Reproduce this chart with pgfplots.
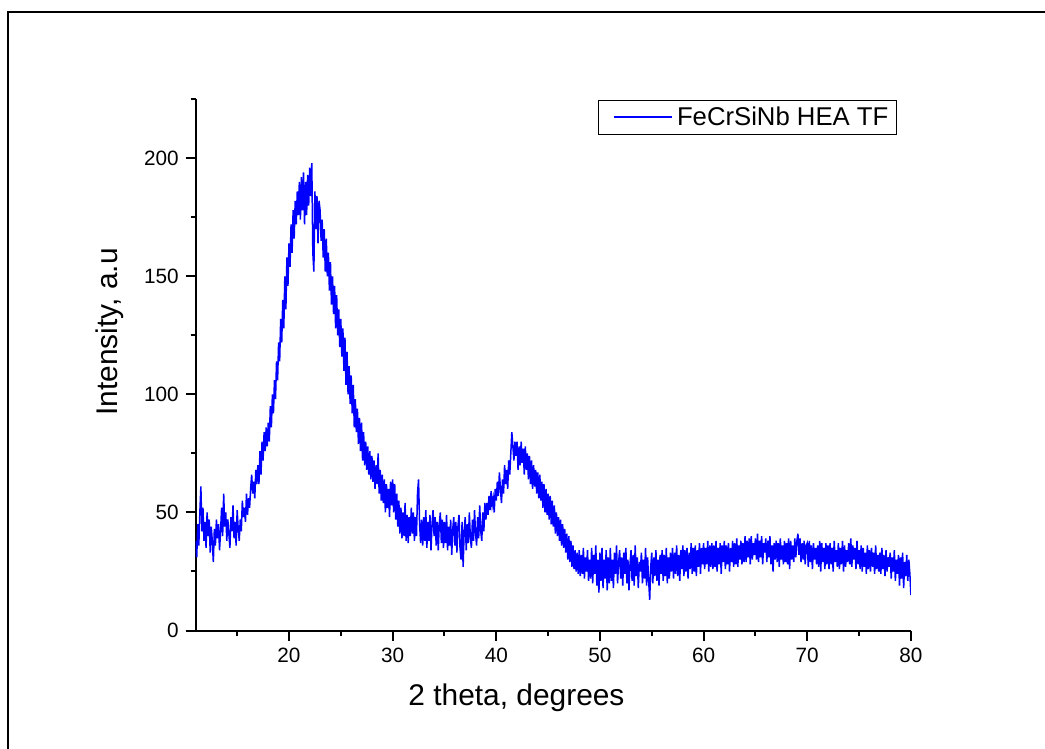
\documentclass[border=0pt]{standalone}
\usepackage{fontspec}
\setmainfont{Liberation Sans}
\usepackage{pgfplots}
\pgfplotsset{compat=1.18}
\begin{document}
\begin{tikzpicture}
\begin{axis}[
 at={(97.85bp,59.25bp)}, anchor=south west,
 scale only axis, width=357.6bp, height=265.6bp,
 xmin=11, xmax=80, ymin=0, ymax=225,
 axis lines*=left,
 axis line style={line width=1bp, black},
 every tick/.append style={line width=1bp, black},
 tick align=outside,
 major tick length=5bp, minor tick length=2.5bp,
 xtick={20,30,...,80}, minor xtick={15,25,...,75},
 ytick={0,50,...,200}, minor ytick={25,75,...,225},
 /pgf/number format/assume math mode=true,
 tick label style={font=\fontsize{10.4}{12}\selectfont},
 xlabel={2 theta, degrees},
 ylabel={Intensity, a.u},
 label style={font=\fontsize{15}{18}\selectfont},
 xlabel style={at={(axis description cs:0.4485,-0.127)}, anchor=center},
 ylabel style={at={(axis description cs:-0.12,0.562)}, anchor=center, rotate=0},
 legend style={at={(axis description cs:0.9804,0.9987)}, anchor=north east,
   draw=black, line width=0.5bp, font=\fontsize{12.9}{14}\selectfont,
   inner xsep=2bp, inner ysep=1bp},
 legend cell align=left,
 legend image code/.code={\draw[blue, line width=1bp] (0bp,0bp) -- (29bp,0bp); \path (-5.5bp,0bp);},
]
\addplot[color=blue, line width=0.75bp, mark=none] coordinates {
(11.0,38) (11.1,31) (11.2,45) (11.3,36) (11.4,50) (11.5,61) (11.6,42) (11.7,52) (11.8,38) (11.9,46)
(12.0,35) (12.1,50) (12.2,40) (12.3,47) (12.4,33) (12.5,44) (12.6,38) (12.7,29) (12.8,43) (12.9,36)
(13.0,47) (13.1,39) (13.2,45) (13.3,34) (13.4,42) (13.5,52) (13.6,40) (13.7,58) (13.8,44) (13.9,50)
(14.0,38) (14.1,47) (14.2,41) (14.3,35) (14.4,48) (14.5,42) (14.6,53) (14.7,39) (14.8,46) (14.9,36)
(15.0,51) (15.1,43) (15.2,38) (15.3,47) (15.4,42) (15.5,55) (15.6,48) (15.7,52) (15.8,46) (15.9,58)
(16.0,49) (16.1,56) (16.2,52) (16.3,60) (16.4,66) (16.5,58) (16.6,63) (16.7,56) (16.8,68) (16.9,62)
(17.0,70) (17.1,62) (17.2,76) (17.3,66) (17.4,80) (17.5,72) (17.6,84) (17.7,76) (17.8,86) (17.9,78)
(18.0,88) (18.1,80) (18.2,95) (18.3,86) (18.4,100) (18.5,92) (18.6,106) (18.7,98) (18.8,114) (18.9,106)
(19.0,122) (19.1,114) (19.2,132) (19.3,122) (19.4,140) (19.5,128) (19.6,150) (19.7,136) (19.8,158) (19.9,146)
(20.0,164) (20.1,154) (20.2,172) (20.3,160) (20.4,178) (20.5,166) (20.6,182) (20.7,172) (20.8,186) (20.9,176)
(21.0,190) (21.1,174) (21.2,192) (21.3,178) (21.4,194) (21.5,172) (21.6,190) (21.7,176) (21.8,193) (21.9,180)
(22.0,196) (22.1,184) (22.2,198) (22.3,160) (22.4,152) (22.5,186) (22.6,170) (22.7,184) (22.8,164) (22.9,182)
(23.0,178) (23.1,165) (23.2,174) (23.3,158) (23.4,170) (23.5,152) (23.6,166) (23.7,150) (23.8,160) (23.9,144)
(24.0,156) (24.1,138) (24.2,150) (24.3,134) (24.4,146) (24.5,128) (24.6,142) (24.7,125) (24.8,136) (24.9,120)
(25.0,132) (25.1,116) (25.2,128) (25.3,110) (25.4,124) (25.5,104) (25.6,118) (25.7,100) (25.8,112) (25.9,96)
(26.0,108) (26.1,92) (26.2,104) (26.3,86) (26.4,98) (26.5,84) (26.6,94) (26.7,79) (26.8,90) (26.9,76)
(27.0,88) (27.1,72) (27.2,84) (27.3,70) (27.4,80) (27.5,68) (27.6,78) (27.7,66) (27.8,76) (27.9,64)
(28.0,74) (28.1,63) (28.2,72) (28.3,60) (28.4,70) (28.5,62) (28.6,75) (28.7,58) (28.8,68) (28.9,55)
(29.0,66) (29.1,54) (29.2,64) (29.3,50) (29.4,62) (29.5,52) (29.6,60) (29.7,48) (29.8,63) (29.9,53)
(30.0,64) (30.1,50) (30.2,62) (30.3,47) (30.4,58) (30.5,44) (30.6,55) (30.7,41) (30.8,52) (30.9,39)
(31.0,50) (31.1,40) (31.2,54) (31.3,38) (31.4,49) (31.5,37) (31.6,48) (31.7,40) (31.8,52) (31.9,41)
(32.0,50) (32.1,38) (32.2,48) (32.3,40) (32.4,58) (32.5,64) (32.6,45) (32.7,37) (32.8,47) (32.9,36)
(33.0,48) (33.1,38) (33.2,51) (33.3,35) (33.4,46) (33.5,38) (33.6,49) (33.7,34) (33.8,45) (33.9,51)
(34.0,40) (34.1,48) (34.2,36) (34.3,46) (34.4,34) (34.5,45) (34.6,50) (34.7,37) (34.8,47) (34.9,35)
(35.0,46) (35.1,37) (35.2,49) (35.3,34) (35.4,44) (35.5,36) (35.6,47) (35.7,32) (35.8,43) (35.9,48)
(36.0,36) (36.1,46) (36.2,33) (36.3,44) (36.4,49) (36.5,35) (36.6,30) (36.7,46) (36.8,27) (36.9,42)
(37.0,48) (37.1,34) (37.2,45) (37.3,37) (37.4,50) (37.5,39) (37.6,35) (37.7,47) (37.8,38) (37.9,51)
(38.0,41) (38.1,36) (38.2,48) (38.3,39) (38.4,53) (38.5,42) (38.6,38) (38.7,50) (38.8,42) (38.9,54)
(39.0,47) (39.1,54) (39.2,49) (39.3,57) (39.4,51) (39.5,59) (39.6,53) (39.7,56) (39.8,50) (39.9,60)
(40.0,55) (40.1,63) (40.2,57) (40.3,67) (40.4,60) (40.5,54) (40.6,64) (40.7,58) (40.8,70) (40.9,62)
(41.0,68) (41.1,60) (41.2,72) (41.3,66) (41.4,75) (41.5,84) (41.6,78) (41.7,72) (41.8,80) (41.9,74)
(42.0,80) (42.1,68) (42.2,78) (42.3,70) (42.4,80) (42.5,71) (42.6,77) (42.7,66) (42.8,78) (42.9,68)
(43.0,75) (43.1,64) (43.2,74) (43.3,62) (43.4,72) (43.5,60) (43.6,70) (43.7,61) (43.8,68) (43.9,58)
(44.0,67) (44.1,56) (44.2,66) (44.3,55) (44.4,63) (44.5,52) (44.6,62) (44.7,50) (44.8,60) (44.9,49)
(45.0,58) (45.1,47) (45.2,57) (45.3,45) (45.4,55) (45.5,44) (45.6,53) (45.7,41) (45.8,50) (45.9,40)
(46.0,48) (46.1,38) (46.2,47) (46.3,36) (46.4,45) (46.5,35) (46.6,43) (46.7,33) (46.8,41) (46.9,30)
(47.0,40) (47.1,29) (47.2,38) (47.3,27) (47.4,36) (47.5,26) (47.6,34) (47.7,25) (47.8,33) (47.9,24)
(48.0,34) (48.1,23) (48.2,32) (48.3,24) (48.4,35) (48.5,22) (48.6,31) (48.7,25) (48.8,34) (48.9,21)
(49.0,30) (49.1,22) (49.2,35) (49.3,20) (49.4,32) (49.5,24) (49.6,36) (49.7,19) (49.8,30) (49.9,16)
(50.0,33) (50.1,21) (50.2,35) (50.3,18) (50.4,30) (50.5,22) (50.6,34) (50.7,17) (50.8,31) (50.9,20)
(51.0,35) (51.1,21) (51.2,30) (51.3,18) (51.4,33) (51.5,24) (51.6,36) (51.7,20) (51.8,29) (51.9,34)
(52.0,22) (52.1,31) (52.2,19) (52.3,33) (52.4,24) (52.5,35) (52.6,20) (52.7,30) (52.8,17) (52.9,28)
(53.0,34) (53.1,21) (53.2,32) (53.3,19) (53.4,36) (53.5,23) (53.6,31) (53.7,18) (53.8,29) (53.9,25)
(54.0,33) (54.1,20) (54.2,30) (54.3,22) (54.4,35) (54.5,19) (54.6,31) (54.7,21) (54.8,13) (54.9,27)
(55.0,33) (55.1,20) (55.2,31) (55.3,23) (55.4,34) (55.5,21) (55.6,30) (55.7,19) (55.8,32) (55.9,24)
(56.0,34) (56.1,21) (56.2,32) (56.3,23) (56.4,35) (56.5,20) (56.6,31) (56.7,22) (56.8,33) (56.9,25)
(57.0,35) (57.1,22) (57.2,33) (57.3,24) (57.4,36) (57.5,23) (57.6,32) (57.7,21) (57.8,34) (57.9,26)
(58.0,36) (58.1,23) (58.2,34) (58.3,25) (58.4,35) (58.5,22) (58.6,33) (58.7,26) (58.8,37) (58.9,24)
(59.0,35) (59.1,25) (59.2,36) (59.3,23) (59.4,34) (59.5,27) (59.6,37) (59.7,24) (59.8,35) (59.9,28)
(60.0,37) (60.1,26) (60.2,35) (60.3,28) (60.4,38) (60.5,25) (60.6,36) (60.7,27) (60.8,37) (60.9,26)
(61.0,36) (61.1,27) (61.2,38) (61.3,25) (61.4,35) (61.5,28) (61.6,37) (61.7,24) (61.8,36) (61.9,29)
(62.0,38) (62.1,26) (62.2,36) (62.3,28) (62.4,37) (62.5,25) (62.6,35) (62.7,29) (62.8,38) (62.9,27)
(63.0,37) (63.1,28) (63.2,39) (63.3,27) (63.4,36) (63.5,30) (63.6,38) (63.7,28) (63.8,37) (63.9,29)
(64.0,40) (64.1,29) (64.2,38) (64.3,31) (64.4,39) (64.5,28) (64.6,40) (64.7,30) (64.8,37) (64.9,32)
(65.0,39) (65.1,30) (65.2,41) (65.3,29) (65.4,38) (65.5,31) (65.6,40) (65.7,28) (65.8,37) (65.9,33)
(66.0,39) (66.1,29) (66.2,38) (66.3,31) (66.4,40) (66.5,28) (66.6,36) (66.7,25) (66.8,37) (66.9,30)
(67.0,38) (67.1,29) (67.2,37) (67.3,27) (67.4,39) (67.5,30) (67.6,36) (67.7,28) (67.8,38) (67.9,29)
(68.0,37) (68.1,28) (68.2,39) (68.3,26) (68.4,38) (68.5,30) (68.6,36) (68.7,29) (68.8,39) (68.9,31)
(69.0,38) (69.1,41) (69.2,32) (69.3,39) (69.4,29) (69.5,37) (69.6,30) (69.7,38) (69.8,28) (69.9,36)
(70.0,37) (70.1,27) (70.2,38) (70.3,29) (70.4,36) (70.5,26) (70.6,37) (70.7,30) (70.8,35) (70.9,28)
(71.0,36) (71.1,27) (71.2,38) (71.3,25) (71.4,37) (71.5,29) (71.6,35) (71.7,26) (71.8,37) (71.9,28)
(72.0,36) (72.1,26) (72.2,37) (72.3,28) (72.4,35) (72.5,25) (72.6,38) (72.7,29) (72.8,34) (72.9,27)
(73.0,37) (73.1,26) (73.2,35) (73.3,28) (73.4,38) (73.5,25) (73.6,36) (73.7,27) (73.8,34) (73.9,29)
(74.0,37) (74.1,28) (74.2,39) (74.3,27) (74.4,36) (74.5,30) (74.6,35) (74.7,26) (74.8,38) (74.9,28)
(75.0,34) (75.1,26) (75.2,36) (75.3,25) (75.4,35) (75.5,27) (75.6,33) (75.7,24) (75.8,36) (75.9,26)
(76.0,34) (76.1,25) (76.2,35) (76.3,27) (76.4,33) (76.5,24) (76.6,36) (76.7,26) (76.8,32) (76.9,25)
(77.0,33) (77.1,24) (77.2,35) (77.3,26) (77.4,32) (77.5,23) (77.6,34) (77.7,25) (77.8,31) (77.9,27)
(78.0,33) (78.1,22) (78.2,31) (78.3,25) (78.4,34) (78.5,21) (78.6,30) (78.7,24) (78.8,32) (78.9,19)
(79.0,31) (79.1,22) (79.2,33) (79.3,18) (79.4,29) (79.5,23) (79.6,32) (79.7,21) (79.8,30) (79.9,24)
(80.0,15)
};
\addlegendentry{FeCrSiNb HEA TF}
\end{axis}
\draw[line width=0.75bp, black] (4bp,-20bp) -- (4bp,368.5bp) -- (560bp,368.5bp);
\pgfresetboundingbox
\useasboundingbox (0bp,0bp) rectangle (522.5bp,374.5bp);
\end{tikzpicture}
\end{document}
